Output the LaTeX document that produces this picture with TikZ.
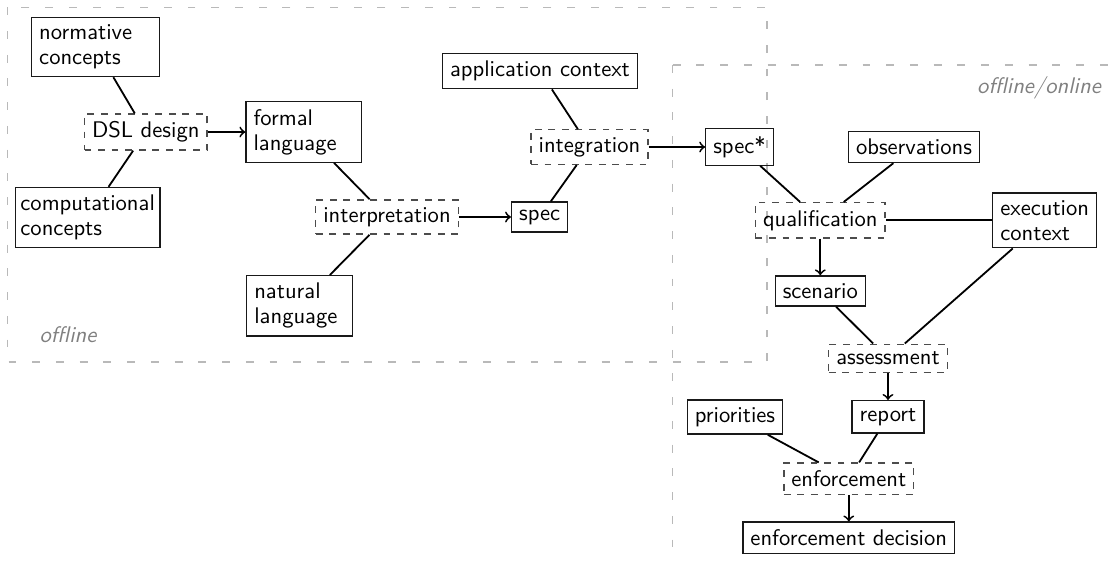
\documentclass[tikz,border=0pt]{standalone}
\begin{document}
\begin{tikzpicture}[x=0.4425pt,y=-0.4425pt,
  every node/.style={font=\sffamily},
  box/.style={draw=black!90, semithick, inner sep=3.33pt},
  act/.style={draw=black!70, semithick, dashed, inner sep=3.33pt},
  two/.style={box, align=left, font=\sffamily\fontsize{10}{11}\selectfont},
  link/.style={thick},
  flow/.style={thick,->},
  region/.style={draw=gray!55, semithick, dash pattern=on 3.5pt off 7pt},
  regionlabel/.style={text=gray, font=\sffamily\itshape}]
\useasboundingbox (0,0) rectangle (1113,560);
\clip (0,0) rectangle (1113,560);

% regions
\draw[region] (7.3,7.3) rectangle (767,362);
\draw[region] (672.7,65) -- (1150,65);
\draw[region] (672.7,65) -- (672.7,600);
\node[regionlabel] (lofl) at (68,335) {offline};
\node[regionlabel] (lonl) at (1039,88) {offline/online};

% offline part
\node[two, text width=49.8pt] (norm) at (95.5,47) {normative\\concepts};
\node[two, inner xsep=2.2pt] (comp) at (87.7,217.5) {computational\\concepts};
\node[act] (dsl) at (145.8,132) {DSL design};
\node[two, text width=44.5pt] (formal) at (303.8,132) {formal\\language};
\node[act] (interp) at (387,217) {interpretation};
\node[two, text width=40pt] (natural) at (299.5,305.8) {natural\\language};
\node[box] (spec) at (539.7,217) {spec};
\node[box] (app) at (540,71.2) {application context};
\node[act] (integ) at (589.5,147) {integration};

% offline/online part
\node[box] (specstar) at (739.5,147) {spec*};
\node[box] (obs) at (914,147) {observations};
\node[act] (qual) at (820.3,220.3) {qualification};
\node[two] (exec) at (1044.7,220.3) {execution\\context};
\node[box] (scen) at (820.3,291) {scenario};
\node[act] (assess) at (888,358.3) {assessment};
\node[box] (report) at (888,416.8) {report};
\node[box] (prio) at (735,417) {priorities};
\node[act] (enf) at (848.8,478.7) {enforcement};
\node[box] (decision) at (848.8,537.7) {enforcement decision};

% connectors
\draw[link] (norm) -- (dsl);
\draw[link] (dsl) -- (comp);
\draw[flow] (dsl) -- (formal);
\draw[link] (formal) -- (interp);
\draw[link] (interp) -- (natural);
\draw[flow] (interp) -- (spec);
\draw[link] (spec) -- (integ);
\draw[link] (app) -- (integ);
\draw[flow] (integ) -- (specstar);
\draw[link] (specstar) -- (qual);
\draw[link] (obs) -- (qual);
\draw[link] (qual) -- (exec);
\draw[flow] (qual) -- (scen);
\draw[link] (scen) -- (assess);
\draw[link] (exec) -- (assess);
\draw[flow] (assess) -- (report);
\draw[link] (prio) -- (enf);
\draw[link] (report) -- (enf);
\draw[flow] (enf) -- (decision);
\end{tikzpicture}
\end{document}
